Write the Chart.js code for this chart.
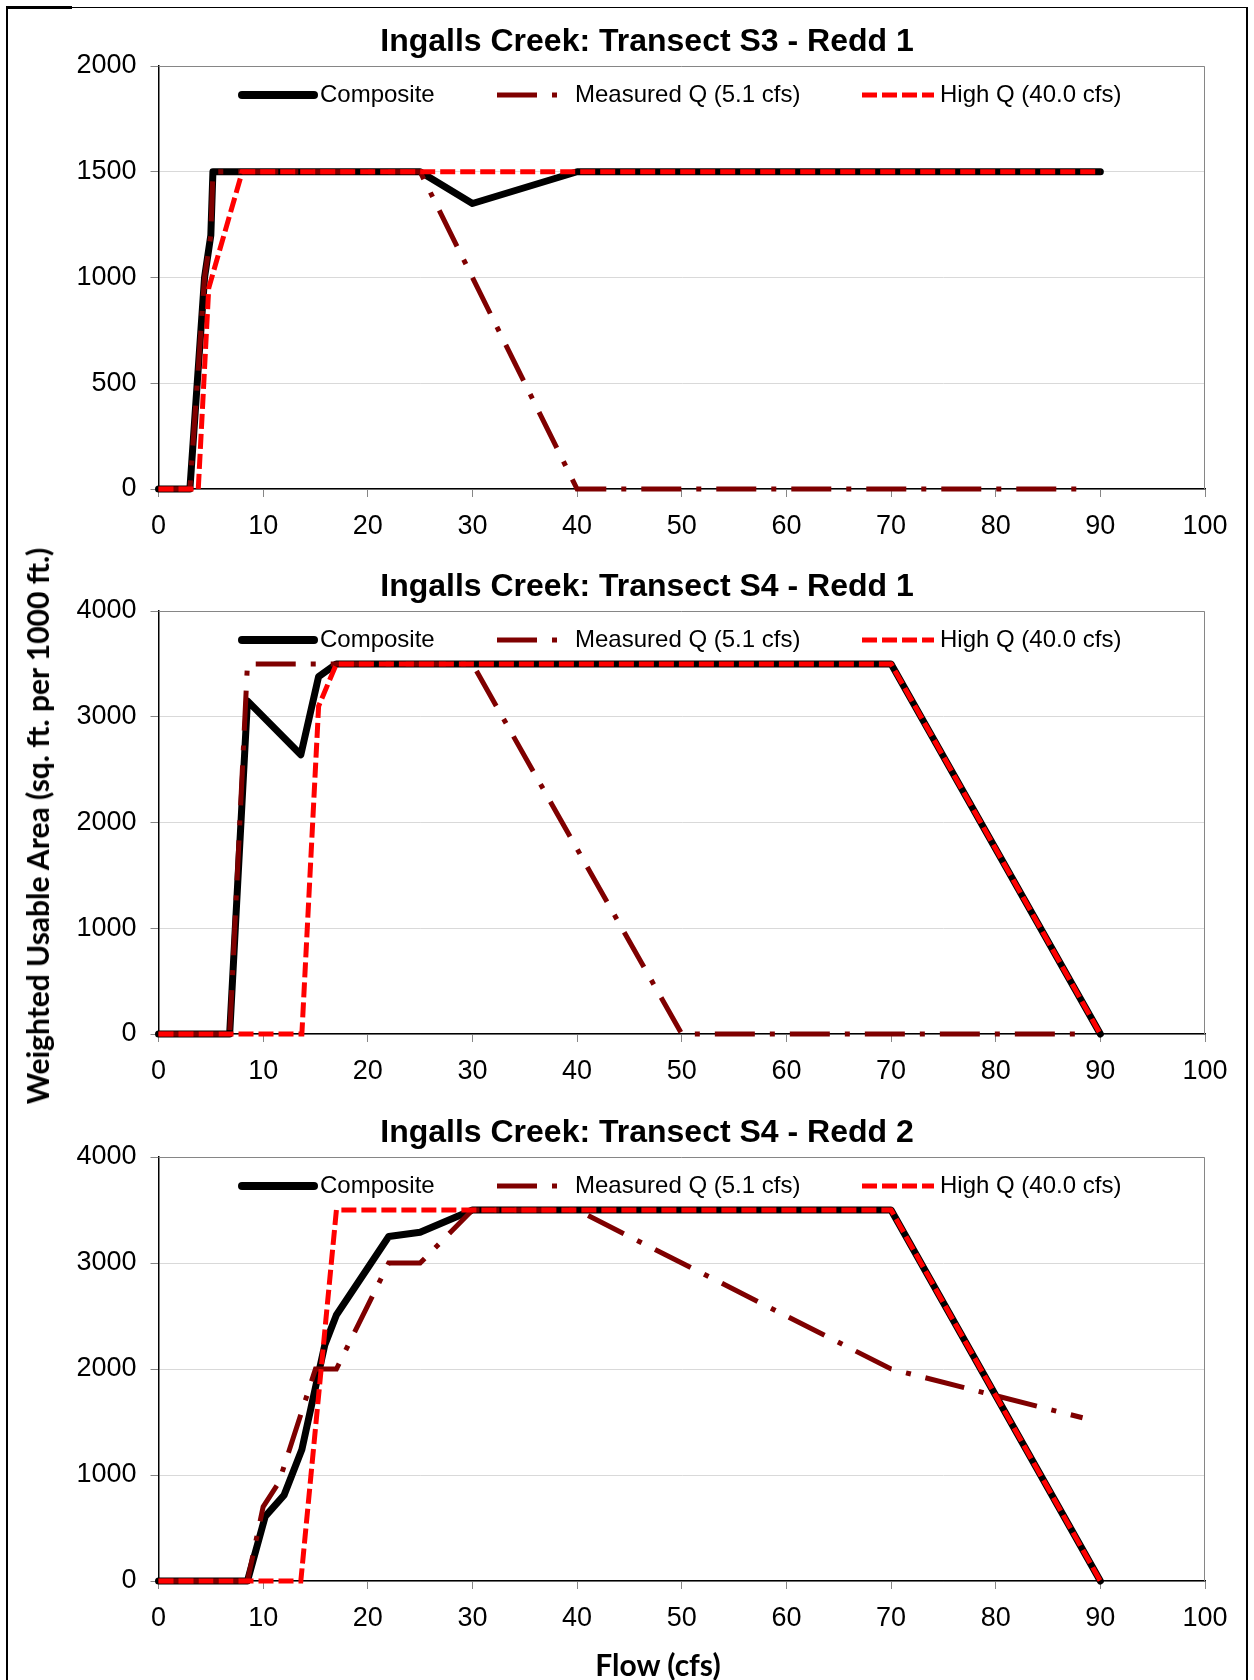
<!DOCTYPE html>
<html>
<head>
<meta charset="utf-8">
<script src="https://cdn.jsdelivr.net/npm/chart.js@4.4.1/dist/chart.umd.min.js"></script>
<style>
  body { margin: 0; background: #fff; }
  #page { position: relative; width: 1254px; height: 1680px; overflow: hidden; background: #fff; }
  #page canvas { position: absolute; left: 0; }
  #frame { position: absolute; left: 6px; top: 7px; width: 1238px; height: 1700px;
           border-left: 2px solid #000; border-right: 2px solid #000; border-top: 1.5px solid #000; }
  #frameTab { position: absolute; left: 6px; top: 6px; width: 66px; height: 3px; background: #000; }
  #yTitle { position: absolute; left: 37px; top: 826px; transform: translate(-50%, -50%) rotate(-90deg);
            white-space: nowrap; font: bold 30px Lato, sans-serif; color: #000; }
  #xTitle { position: absolute; left: 658px; top: 1664px; transform: translate(-50%, -50%);
            white-space: nowrap; font: bold 30px Lato, sans-serif; color: #000; }
</style>
</head>
<body>
<div id="page">
  <div id="frame"></div>
  <div id="frameTab"></div>
  <canvas id="chartS3R1" width="1254" height="545" style="top:0px"></canvas>
  <canvas id="chartS4R1" width="1254" height="545" style="top:545px"></canvas>
  <canvas id="chartS4R2" width="1254" height="590" style="top:1091px"></canvas>
  <div id="yTitle">Weighted Usable Area (sq. ft. per 1000 ft.)</div>
  <div id="xTitle">Flow (cfs)</div>
</div>
<script>
// series labels
const seriesLabels = ['Composite', 'Measured Q (5.1 cfs)', 'High Q (40.0 cfs)'];

// Transect S3 - Redd 1
const s3r1CompFlow = [0, 3, 4.4, 5, 5.2, 25, 30, 40, 90];
const s3r1CompWua = [0, 0, 1000, 1200, 1500, 1500, 1350, 1500, 1500];
const s3r1MeasFlow = [0, 3, 4.4, 5, 5.2, 25, 40, 88.3];
const s3r1MeasWua = [0, 0, 1000, 1200, 1500, 1500, 0, 0];
const s3r1HighFlow = [0, 3.8, 4.8, 8, 90];
const s3r1HighWua = [0, 0, 950, 1500, 1500];

// Transect S4 - Redd 1
const s4r1CompFlow = [0, 6.8, 8.5, 13.6, 15.3, 17, 70, 90];
const s4r1CompWua = [0, 0, 3150, 2640, 3380, 3500, 3500, 0];
const s4r1MeasFlow = [0, 6.8, 8.5, 30, 50, 88.3];
const s4r1MeasWua = [0, 0, 3500, 3500, 0, 0];
const s4r1HighFlow = [0, 13.7, 15.3, 17, 70, 90];
const s4r1HighWua = [0, 0, 3100, 3500, 3500, 0];

// Transect S4 - Redd 2
const s4r2CompFlow = [0, 8.5, 10.2, 12, 13.7, 15.9, 17, 22, 25, 30, 70, 90];
const s4r2CompWua = [0, 0, 610, 810, 1240, 2230, 2510, 3250, 3290, 3500, 3500, 0];
const s4r2MeasFlow = [0, 8.5, 10, 11.5, 15, 17, 22, 25, 30, 40, 70, 88.3];
const s4r2MeasWua = [0, 0, 700, 930, 2000, 2000, 3000, 3000, 3500, 3500, 2000, 1540];
const s4r2HighFlow = [0, 13.6, 17, 70, 90];
const s4r2HighWua = [0, 0, 3500, 3500, 0];

// axis ticks
const flowMin = 0, flowMax = 100, flowStep = 10;
const s3r1Max = 2000, s3r1Step = 500;
const s4Max = 4000, s4Step = 1000;

const tickFont = '"Liberation Sans", Arial, sans-serif';

function toPoints(xs, ys) {
    return xs.map((x, i) => ({x: x, y: ys[i]}));
}

// legend drawn inside the plot, like the original
const legendSpots = [
    {x0: 242, x1: 314, tx: 320},
    {x0: 497, x1: 560, tx: 575},
    {x0: 862, x1: 934, tx: 940}
];

const insideLegend = {
    id: 'insideLegend',
    afterDatasetsDraw(chart) {
        let ctx = chart.ctx;
        let y = chart.chartArea.top + 29;
        ctx.save();
        chart.data.datasets.forEach(function (ds, i) {
            let spot = legendSpots[i];
            ctx.beginPath();
            ctx.setLineDash(ds.borderDash || []);
            ctx.lineCap = ds.borderCapStyle;
            ctx.lineWidth = ds.legendWidth;
            ctx.strokeStyle = ds.borderColor;
            ctx.moveTo(spot.x0, y);
            ctx.lineTo(spot.x1, y);
            ctx.stroke();
            ctx.setLineDash([]);
            ctx.font = '24px ' + tickFont;
            ctx.textBaseline = 'middle';
            ctx.textAlign = 'left';
            ctx.fillStyle = '#000';
            ctx.fillText(ds.label, spot.tx, y);
        });
        ctx.restore();
    }
};

// title centred where the original sits, a bit left of the plot centre
const chartTitle = {
    id: 'chartTitle',
    afterDraw(chart, args, opts) {
        let ctx = chart.ctx;
        ctx.save();
        ctx.font = 'bold 32px ' + tickFont;
        ctx.textAlign = 'center';
        ctx.textBaseline = 'middle';
        ctx.fillStyle = '#000';
        ctx.fillText(opts.text, 647, chart.chartArea.top - 24);
        ctx.restore();
    }
};

const plotFrame = {
    id: 'plotFrame',
    beforeDatasetsDraw(chart) {
        let a = chart.chartArea;
        let ctx = chart.ctx;
        ctx.save();
        ctx.strokeStyle = '#868686';
        ctx.lineWidth = 1;
        ctx.beginPath();
        ctx.moveTo(a.left, a.top + 0.5);
        ctx.lineTo(a.right - 0.5, a.top + 0.5);
        ctx.lineTo(a.right - 0.5, a.bottom);
        ctx.stroke();
        ctx.restore();
    }
};

function makeChart(canvasId, title, comp, meas, high, yMax, yStep, bottomPad) {
    let canvas = document.getElementById(canvasId);
    return new Chart(canvas, {
        type: 'line',
        data: {
            datasets: [{
                label: seriesLabels[0],
                data: comp,
                borderColor: '#000000',
                borderWidth: 7,
                legendWidth: 8,
                borderCapStyle: 'round',
                borderJoinStyle: 'round',
                order: 3
            }, {
                label: seriesLabels[1],
                data: meas,
                borderColor: '#7f0000',
                borderWidth: 5,
                legendWidth: 5,
                borderDash: [40, 15, 5, 15],
                borderCapStyle: 'butt',
                order: 2
            }, {
                label: seriesLabels[2],
                data: high,
                borderColor: '#ff0000',
                borderWidth: 5,
                legendWidth: 5,
                borderDash: [15, 5],
                borderCapStyle: 'butt',
                order: 1
            }]
        },
        options: {
            responsive: false,
            animation: false,
            devicePixelRatio: 1,
            layout: {padding: {left: 20, right: 49, top: 66, bottom: bottomPad}},
            elements: {
                line: {tension: 0, fill: false},
                point: {radius: 0, hoverRadius: 0}
            },
            datasets: {line: {clip: false}},
            plugins: {
                legend: {display: false},
                tooltip: {enabled: false},
                title: {display: false},
                chartTitle: {text: title}
            },
            scales: {
                x: {
                    type: 'linear',
                    min: flowMin,
                    max: flowMax,
                    afterFit: function (scale) { scale.height = 56; },
                    ticks: {
                        stepSize: flowStep,
                        color: '#000',
                        padding: 13,
                        maxRotation: 0,
                        callback: function (value) { return String(value); },
                        font: {family: tickFont, size: 27}
                    },
                    grid: {drawOnChartArea: false, drawTicks: true, tickLength: 8, tickColor: '#868686'},
                    border: {display: true, color: '#000', width: 1.5}
                },
                y: {
                    min: 0,
                    max: yMax,
                    afterFit: function (scale) { scale.width = 138.5; },
                    ticks: {
                        stepSize: yStep,
                        color: '#000',
                        padding: 14,
                        callback: function (value) { return String(value); },
                        font: {family: tickFont, size: 27}
                    },
                    grid: {color: '#d9d9d9', lineWidth: 1, tickLength: 8, tickColor: '#868686'},
                    border: {display: true, color: '#000', width: 1.5}
                }
            }
        },
        plugins: [plotFrame, insideLegend, chartTitle]
    });
}

makeChart('chartS3R1', 'Ingalls Creek: Transect S3 - Redd 1',
    toPoints(s3r1CompFlow, s3r1CompWua), toPoints(s3r1MeasFlow, s3r1MeasWua),
    toPoints(s3r1HighFlow, s3r1HighWua), s3r1Max, s3r1Step, 0);
makeChart('chartS4R1', 'Ingalls Creek: Transect S4 - Redd 1',
    toPoints(s4r1CompFlow, s4r1CompWua), toPoints(s4r1MeasFlow, s4r1MeasWua),
    toPoints(s4r1HighFlow, s4r1HighWua), s4Max, s4Step, 0);
makeChart('chartS4R2', 'Ingalls Creek: Transect S4 - Redd 2',
    toPoints(s4r2CompFlow, s4r2CompWua), toPoints(s4r2MeasFlow, s4r2MeasWua),
    toPoints(s4r2HighFlow, s4r2HighWua), s4Max, s4Step, 44);
</script>
</body>
</html>
